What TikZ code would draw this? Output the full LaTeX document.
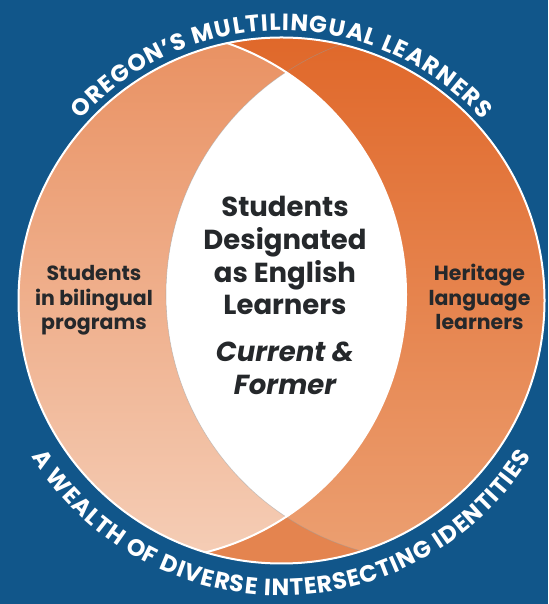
\documentclass[tikz,border=0pt]{standalone}
\usepackage{fontspec}
\setmainfont{Poppins}
\usetikzlibrary{calc,decorations.text}

\definecolor{oreblue}{RGB}{17,86,138}
\definecolor{deeporange}{RGB}{224,104,42}
\definecolor{deeporangelow}{RGB}{236,160,114}
\definecolor{paleorange}{RGB}{233,145,98}
\definecolor{paleorangelow}{RGB}{245,206,183}
\definecolor{caporange}{RGB}{228,132,79}
\definecolor{labeltext}{RGB}{37,40,43}

\newcommand\arcfont{\fontsize{23.5}{23.5}\selectfont\bfseries}

\begin{document}
\begin{tikzpicture}[x=1pt,y=1pt,
    lbl/.style={align=center, text=labeltext, anchor=base, font=\fontsize{20.5}{24.8}\selectfont\bfseries},
    biglbl/.style={align=center, text=labeltext, anchor=base, font=\fontsize{27.5}{32.8}\selectfont\bfseries},
    rim/.style={white, line width=2pt}]

    \useasboundingbox (0,0) rectangle (548,604);
    \fill[oreblue] (0,0) rectangle (548,604);

    \coordinate (O) at (281.5,303.5);
    \coordinate (L) at (140,309.5);
    \coordinate (R) at (432,309.5);

    \begin{scope}
        \clip (O) circle (263);
        \shade[top color=deeporange, bottom color=deeporangelow] (18,40) rectangle (545,567);
        \fill[caporange] (0,0) rectangle (548,200);
        \begin{scope}
            \clip (R) circle (266);
            \shade[top color=deeporange, bottom color=deeporangelow] (18,40) rectangle (545,567);
        \end{scope}
        \begin{scope}
            \clip (L) circle (266);
            \shade[top color=paleorange, bottom color=paleorangelow] (18,40) rectangle (545,567);
            \fill[white] (R) circle (266);
        \end{scope}
        \draw[black!40, opacity=.5, line width=.6pt] (R) circle (266);
        \draw[rim] (L) circle (266);
    \end{scope}
    \draw[rim] (O) circle (263);

    \path[decorate, decoration={text along path, text align={fit to path}, text color=white,
        text={|\arcfont|OREGON’S MULTILINGUAL LEARNERS}}]
        ($(O)+(138:270)$) arc[start angle=138, end angle=42, radius=270];
    \path[decorate, decoration={text along path, text align={fit to path}, text color=white,
        text={|\arcfont|A WEALTH OF DIVERSE INTERSECTING IDENTITIES}}]
        ($(O)+(212:295)$) arc[start angle=212, end angle=328, radius=295];

    \node[biglbl] (designated) at (285,289) {Students\\Designated\\as English\\Learners};
    \node[biglbl, font=\fontsize{27.5}{33.3}\selectfont\bfseries\itshape] (status) at (285,209) {Current \&\\Former};
    \node[lbl] (bilingual) at (94,274) {Students\\in bilingual\\programs};
    \node[lbl] (heritage) at (479.5,274) {Heritage\\language\\learners};

\end{tikzpicture}
\end{document}
